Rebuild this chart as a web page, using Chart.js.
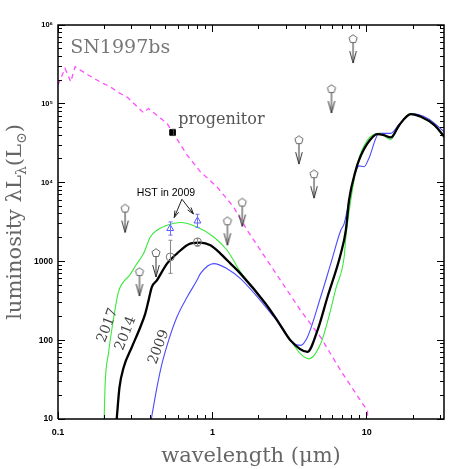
<!DOCTYPE html>
<html>
<head>
<meta charset="utf-8">
<script src="https://cdn.jsdelivr.net/npm/chart.js@4"></script>
<style>
html, body { margin: 0; padding: 0; background: #fff; }
</style>
</head>
<body>
<canvas id="myChart" width="469" height="469"></canvas>
<script>
// model SEDs (wavelength in micron, luminosity in Lsun)
var wl2014 = [0.240, 0.250, 0.266, 0.301, 0.341, 0.367, 0.386, 0.405, 0.437, 0.508, 0.589, 0.719, 0.836, 0.971, 1.127, 1.31, 1.52, 2.21, 2.7, 3.21, 4.12, 4.79, 5.56, 6.78, 7.31, 7.67, 8.48, 8.9, 10.1, 11.7, 12.9, 14.3, 16.2, 19.3, 22.4, 27.4, 31.8];
var lum2014 = [10, 25, 45, 82, 146, 216, 320, 473, 575, 938, 1257, 1683, 1734, 1603, 1257, 938, 700, 290, 165, 99, 71, 133, 353, 1250, 2480, 5970, 14400, 19300, 31400, 41200, 40000, 37400, 53600, 74000, 68400, 53600, 38000];

var wl2017 = [0.199, 0.202, 0.212, 0.228, 0.246, 0.262, 0.293, 0.320, 0.358, 0.396, 0.437, 0.508, 0.619, 0.794, 1.02, 1.245, 1.52, 2.21, 2.7, 3.21, 3.72, 4.22, 5.02, 5.6, 6.3, 7.13, 7.31, 7.87, 8.7, 10.1, 12.0, 14.3, 16.2, 19.3, 22.4, 27.4, 31.8];
var lum2017 = [10, 28, 67, 179, 408, 530, 680, 900, 1257, 2042, 2484, 2877, 3110, 2736, 2042, 1384, 733, 290, 165, 100, 67, 58, 90, 180, 450, 1138, 2000, 5970, 17500, 34600, 42200, 35300, 53600, 75000, 68000, 53000, 37000];

var wl2009 = [0.402, 0.437, 0.471, 0.520, 0.589, 0.686, 0.794, 0.836, 1.02, 1.245, 1.52, 2.50, 3.37, 3.72, 4.12, 5.02, 5.84, 6.78, 7.13, 8.25, 8.9, 9.6, 10.3, 12.0, 14.3, 16.2, 19.3, 24.8, 31.8];
var lum2009 = [10, 25, 50, 99, 197, 353, 575, 700, 938, 809, 604, 197, 90, 86, 109, 353, 938, 2480, 3020, 11800, 16300, 15900, 20200, 42200, 42200, 55000, 75000, 65200, 44100];

var wlProgModel = [0.1, 0.111, 0.121, 0.129, 0.157, 0.187, 0.218, 0.253, 0.279, 0.358, 0.385, 0.508, 0.56, 0.686, 0.836, 1.07, 1.37, 1.68, 2.50, 3.72, 5.02, 6.78, 9.4, 10.1, 10.1];
var lumProgModel = [173000, 282000, 190000, 295000, 232000, 190000, 164000, 135000, 123000, 77000, 87000, 56400, 42000, 22300, 13700, 8830, 4910, 2480, 771, 239, 109, 41, 15.6, 12.8, 10];

// photometry
var limitWl = [0.272, 0.337, 0.431, 1.25, 1.56, 3.63, 4.55, 5.90, 8.15];
var limitLum = [4690, 733, 1279, 3236, 5590, 34600, 12800, 154000, 664000];

var detWl = [0.533, 0.80];
var detLum = [1138, 1766];
var detLo = [706, 1556];
var detHi = [1854, 1945];

var hstWl = [0.533, 0.80];
var hstLum = [2612, 3258];
var hstLo = [2154, 2700];
var hstHi = [3170, 3966];

var progWl = [0.552];
var progLum = [43300];
var progLo = [39500];
var progHi = [47500];

// axes
var xMin = 0.1, xMax = 31.6, yMin = 10, yMax = 1e6;
var xTicks = [0.1, 1, 10];
var xTickLabels = ['0.1', '1', '10'];
var yTicks = [10, 100, 1000, 1e4, 1e5, 1e6];
var yTickLabels = ['10', '100', '1000', '10\u2074', '10\u2075', '10\u2076'];

function pts(xs, ys) {
    return xs.map(function (x, i) { return {x: x, y: ys[i]}; });
}

// 1,2,...,9 x 10^n inside [lo, hi]
function logSteps(lo, hi) {
    var out = [];
    for (var n = Math.floor(Math.log10(lo)); n <= Math.ceil(Math.log10(hi)); n++) {
        for (var k = 1; k <= 9; k++) {
            var v = k * Math.pow(10, n);
            if (v >= lo * 0.999 && v <= hi * 1.001) out.push(v);
        }
    }
    return out;
}
function isMajor(v) {
    var l = Math.log10(v);
    return Math.abs(l - Math.round(l)) < 1e-6;
}

function makeLimitMarker() {
    var c = document.createElement('canvas');
    c.width = 14; c.height = 54;
    var g = c.getContext('2d');
    var cx = 7, cy = 27;
    g.strokeStyle = '#666';
    g.lineWidth = 1;
    g.beginPath();
    for (var i = 0; i < 5; i++) {
        var a = -Math.PI / 2 + i * 2 * Math.PI / 5;
        var px = cx + 4.3 * Math.cos(a), py = cy + 4.3 * Math.sin(a);
        if (i) g.lineTo(px, py); else g.moveTo(px, py);
    }
    g.closePath();
    g.stroke();
    g.strokeStyle = '#333';
    g.beginPath();
    g.moveTo(cx, cy + 4); g.lineTo(cx, cy + 24);
    g.moveTo(cx - 3.3, cy + 12); g.lineTo(cx, cy + 24); g.lineTo(cx + 3.3, cy + 12);
    g.stroke();
    return c;
}

// inward tick mark image, centred on the axis point
function tickImg(side, len) {
    var c = document.createElement('canvas');
    var horiz = side === 'left' || side === 'right';
    c.width = horiz ? 2 * len : 1;
    c.height = horiz ? 1 : 2 * len;
    var g = c.getContext('2d');
    g.fillStyle = '#000';
    if (side === 'left') g.fillRect(len, 0, len, 1);
    if (side === 'right') g.fillRect(0, 0, len, 1);
    if (side === 'bottom') g.fillRect(0, 0, 1, len);
    if (side === 'top') g.fillRect(0, len, 1, len);
    return c;
}

// error bars
var errorBars = {
    id: 'errorBars',
    afterDatasetsDraw: function (chart) {
        var ctx = chart.ctx, xs = chart.scales.x, ys = chart.scales.y;
        chart.data.datasets.forEach(function (ds) {
            if (!ds.errLo) return;
            ctx.save();
            ctx.strokeStyle = ds.errColor;
            ctx.lineWidth = 1;
            ds.data.forEach(function (p, i) {
                var px = Math.round(xs.getPixelForValue(p.x)) + 0.5;
                var y1 = ys.getPixelForValue(ds.errLo[i]);
                var y2 = ys.getPixelForValue(ds.errHi[i]);
                ctx.beginPath();
                ctx.moveTo(px, y1); ctx.lineTo(px, y2);
                ctx.moveTo(px - 2, y1); ctx.lineTo(px + 2, y1);
                ctx.moveTo(px - 2, y2); ctx.lineTo(px + 2, y2);
                ctx.stroke();
            });
            ctx.restore();
        });
    }
};

// titles and labels
var annotations = {
    id: 'annotations',
    afterDraw: function (chart) {
        var ctx = chart.ctx, xs = chart.scales.x, ys = chart.scales.y;
        function X(v) { return xs.getPixelForValue(v); }
        function Y(v) { return ys.getPixelForValue(v); }

        ctx.save();
        // axis titles
        ctx.fillStyle = '#666';
        ctx.font = '21px "DejaVu Serif"';
        ctx.textAlign = 'center';
        ctx.textBaseline = 'alphabetic';
        ctx.fillText('wavelength (\u03BCm)', (X(xMin) + X(xMax)) / 2, 462);

        var parts = [
            {t: 'luminosity \u03BBL', s: 21, dy: 0},
            {t: '\u03BB', s: 14, dy: 5},
            {t: '(L', s: 21, dy: 0},
            {t: '\u2299', s: 14, dy: 5},
            {t: ')', s: 21, dy: 0}
        ];
        var total = 0;
        parts.forEach(function (p) {
            ctx.font = p.s + 'px "DejaVu Serif"';
            p.w = ctx.measureText(p.t).width;
            total += p.w;
        });
        ctx.save();
        ctx.translate(21, (Y(yMax) + Y(yMin)) / 2);
        ctx.rotate(-Math.PI / 2);
        ctx.textAlign = 'left';
        var cx = -total / 2;
        parts.forEach(function (p) {
            ctx.font = p.s + 'px "DejaVu Serif"';
            ctx.fillText(p.t, cx, p.dy);
            cx += p.w;
        });
        ctx.restore();

        // object name
        ctx.fillStyle = '#777';
        ctx.font = '19px "DejaVu Serif"';
        ctx.textAlign = 'left';
        ctx.fillText('SN1997bs', X(0.12), Y(4.4e5));

        ctx.fillStyle = '#555';
        ctx.font = '16px "DejaVu Serif"';
        ctx.fillText('progenitor', X(0.60), Y(55200));

        // year labels along the curves
        ctx.fillStyle = '#444';
        ctx.font = '14px "DejaVu Serif"';
        ctx.textAlign = 'center';
        ctx.textBaseline = 'middle';
        [['2017', 0.21, 154], ['2014', 0.275, 122], ['2009', 0.45, 81.7]].forEach(function (l) {
            ctx.save();
            ctx.translate(X(l[1]), Y(l[2]));
            ctx.rotate(-69 * Math.PI / 180);
            ctx.fillText(l[0], 0, 0);
            ctx.restore();
        });

        // HST label with arrows
        ctx.fillStyle = '#000';
        ctx.font = '10.5px "Liberation Sans"';
        ctx.fillText('HST in 2009', X(0.50), Y(7330));
        var tail = [X(0.50) + 16, Y(7330) + 6];
        var tips = [[X(hstWl[0]) + 4, Y(hstLum[0]) - 11], [X(hstWl[1]) - 4, Y(hstLum[1]) - 7]];
        ctx.strokeStyle = '#222';
        ctx.lineWidth = 1;
        tips.forEach(function (t) {
            var ang = Math.atan2(t[1] - tail[1], t[0] - tail[0]);
            ctx.beginPath();
            ctx.moveTo(tail[0], tail[1]); ctx.lineTo(t[0], t[1]);
            ctx.moveTo(t[0] - 7 * Math.cos(ang - 0.3), t[1] - 7 * Math.sin(ang - 0.3));
            ctx.lineTo(t[0], t[1]);
            ctx.lineTo(t[0] - 7 * Math.cos(ang + 0.3), t[1] - 7 * Math.sin(ang + 0.3));
            ctx.stroke();
        });
        ctx.restore();
    }
};

function loadChart() {
    var ctx = document.getElementById('myChart').getContext('2d');
    var limitMarker = makeLimitMarker();

    var xSteps = logSteps(xMin, xMax);
    var ySteps = logSteps(yMin, yMax);
    var img = {};
    ['left', 'right', 'top', 'bottom'].forEach(function (s) {
        img[s] = { major: tickImg(s, 7), minor: tickImg(s, 4) };
    });
    function tickSet(side, data, key) {
        return {
            label: 'ticks ' + side, data: data, showLine: false, clip: false,
            pointStyle: function (c) { return isMajor(c.raw[key]) ? img[side].major : img[side].minor; }
        };
    }

    var curve = { showLine: true, pointRadius: 0, fill: false, cubicInterpolationMode: 'monotone' };

    var data = {
        datasets: [
            {
                label: 'frame', showLine: true, clip: false, pointRadius: 0, tension: 0,
                borderColor: '#000', borderWidth: 1.5, fill: false,
                data: [{x: xMin, y: yMin}, {x: xMax, y: yMin}, {x: xMax, y: yMax}, {x: xMin, y: yMax}, {x: xMin, y: yMin}]
            },
            tickSet('bottom', xSteps.map(function (v) { return {x: v, y: yMin}; }), 'x'),
            tickSet('top', xSteps.map(function (v) { return {x: v, y: yMax}; }), 'x'),
            tickSet('left', ySteps.map(function (v) { return {x: xMin, y: v}; }), 'y'),
            tickSet('right', ySteps.map(function (v) { return {x: xMax, y: v}; }), 'y'),
            {
                label: 'progenitor', data: pts(progWl, progLum), showLine: false,
                pointStyle: 'rect', pointRadius: 4, backgroundColor: '#000', borderColor: '#000',
                errLo: progLo, errHi: progHi, errColor: '#444'
            },
            {
                label: 'HST 2009', data: pts(hstWl, hstLum), showLine: false,
                pointStyle: 'triangle', pointRadius: 4, backgroundColor: 'rgba(0,0,0,0)',
                borderColor: '#5a5aff', borderWidth: 1,
                errLo: hstLo, errHi: hstHi, errColor: '#6f6fff'
            },
            {
                label: 'detections', data: pts(detWl, detLum), showLine: false,
                pointStyle: 'circle', pointRadius: 4, backgroundColor: 'rgba(0,0,0,0)',
                borderColor: '#777', borderWidth: 1,
                errLo: detLo, errHi: detHi, errColor: '#888'
            },
            {
                label: 'upper limits', data: pts(limitWl, limitLum), showLine: false,
                pointStyle: limitMarker
            },
            Object.assign({ label: '2014', data: pts(wl2014, lum2014), borderColor: '#000', borderWidth: 2.3 }, curve),
            Object.assign({ label: '2017', data: pts(wl2017, lum2017), borderColor: '#3de83d', borderWidth: 1.1 }, curve),
            Object.assign({ label: '2009', data: pts(wl2009, lum2009), borderColor: '#4a4aff', borderWidth: 1.1 }, curve),
            {
                label: 'progenitor model', data: pts(wlProgModel, lumProgModel), showLine: true,
                borderColor: '#ff4dff', borderWidth: 1.3, borderDash: [5, 4], pointRadius: 0, fill: false, tension: 0
            }
        ]
    };

    var options = {
        responsive: false,
        animation: false,
        events: [],
        layout: { padding: { top: 25, right: 25, left: 0, bottom: 0 } },
        scales: {
            x: {
                type: 'logarithmic', min: xMin, max: xMax,
                afterBuildTicks: function (s) { s.ticks = xTicks.map(function (v) { return {value: v}; }); },
                afterFit: function (s) { s.height = 50; },
                grid: { display: false, drawTicks: false },
                border: { display: false },
                ticks: {
                    autoSkip: false, maxRotation: 0, padding: 8, color: '#000',
                    font: { family: 'Liberation Sans', size: 9, weight: 'bold' },
                    callback: function (v, i) { return xTickLabels[i]; }
                }
            },
            y: {
                type: 'logarithmic', min: yMin, max: yMax,
                afterBuildTicks: function (s) { s.ticks = yTicks.map(function (v) { return {value: v}; }); },
                afterFit: function (s) { s.width = 58; },
                grid: { display: false, drawTicks: false },
                border: { display: false },
                ticks: {
                    autoSkip: false, padding: 5, color: '#000',
                    font: function (c) {
                        var big = c.tick && c.tick.value >= 1e4;
                        return { family: 'Liberation Sans', size: big ? 7.5 : 8.5, weight: 'bold' };
                    },
                    callback: function (v, i) { return yTickLabels[i]; }
                }
            }
        },
        plugins: {
            legend: { display: false },
            tooltip: { enabled: false }
        }
    };

    new Chart(ctx, {
        type: 'scatter',
        data: data,
        options: options,
        plugins: [errorBars, annotations]
    });
}

loadChart();
</script>
</body>
</html>
